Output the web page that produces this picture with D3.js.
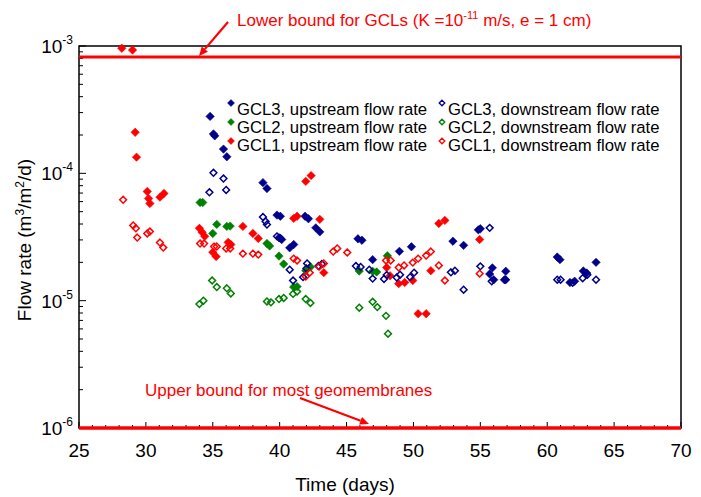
<!DOCTYPE html>
<html><head><meta charset="utf-8">
<script src="https://cdn.jsdelivr.net/npm/d3@7"></script>
<style>
body{margin:0;background:#fff;}
text{font-family:Arial,"Liberation Sans",sans-serif;}
</style></head>
<body>
<svg id="chart" width="701" height="497"></svg>
<script>
// ---------------- DATA ----------------
const xTicks = [25, 30, 35, 40, 45, 50, 55, 60, 65, 70];
const yTicks = [1e-6, 1e-5, 1e-4, 1e-3];
const yTickExponents = ["-6", "-5", "-4", "-3"];

const gcl3UpDays = [34.8, 35.05, 35.15, 35.8, 36.05, 38.75, 39.05, 39.8, 40.05, 39.95, 40.15, 40.75, 41.05, 41.9, 42.15, 42.7, 43.0, 45.85, 46.15, 46.95, 48.95, 49.85, 52.95, 53.75, 54.85, 55.0, 55.9, 55.7, 56.0, 56.9, 56.8, 60.75, 60.95, 61.7, 62.05, 62.7, 62.95, 63.65];
const gcl3UpVals = [2.8e-4, 2.04e-4, 1.97e-4, 1.55e-4, 1.35e-4, 8.45e-5, 7.6e-5, 4.7e-5, 4.6e-5, 3.12e-5, 3.02e-5, 2.6e-5, 2.76e-5, 4.6e-5, 4.4e-5, 3.73e-5, 3.47e-5, 3.06e-5, 2.98e-5, 2.1e-5, 2.44e-5, 2.65e-5, 2.93e-5, 2.72e-5, 3.6e-5, 3.67e-5, 1.81e-5, 1.62e-5, 1.46e-5, 1.7e-5, 1.46e-5, 2.2e-5, 2.1e-5, 1.39e-5, 1.42e-5, 1.71e-5, 1.65e-5, 2.0e-5];

const gcl2UpDays = [34.05, 34.25, 35.0, 35.3, 36.05, 36.3, 39.05, 39.25, 39.95, 40.3, 41.05, 41.3, 41.95, 42.3, 45.95, 46.95, 47.25, 48.05];
const gcl2UpVals = [5.9e-5, 5.9e-5, 3.37e-5, 3.97e-5, 3.83e-5, 3.85e-5, 2.81e-5, 2.69e-5, 2.24e-5, 1.94e-5, 1.28e-5, 1.29e-5, 1.72e-5, 1.84e-5, 1.71e-5, 1.7e-5, 1.68e-5, 2.25e-5];

const gcl1UpDays = [28.2, 29.0, 29.2, 29.3, 30.1, 30.2, 30.3, 31.05, 31.35, 34.0, 34.2, 34.4, 35.0, 35.25, 36.15, 36.35, 37.25, 38.0, 38.4, 41.05, 41.3, 41.95, 42.35, 43.0, 43.3, 48.0, 48.25, 48.9, 49.35, 49.95, 50.35, 50.95, 51.3, 51.9, 52.35, 54.95];
const gcl1UpVals = [9.6e-4, 9.3e-4, 2.1e-4, 1.34e-4, 7.2e-5, 6.35e-5, 5.8e-5, 6.5e-5, 6.95e-5, 3.7e-5, 3.45e-5, 3.2e-5, 2.4e-5, 2.22e-5, 2.87e-5, 2.76e-5, 3.83e-5, 3.37e-5, 3.08e-5, 4.43e-5, 4.6e-5, 8.65e-5, 9.6e-5, 4.35e-5, 1.66e-5, 1.82e-5, 1.57e-5, 1.36e-5, 1.39e-5, 1.44e-5, 7.9e-6, 7.9e-6, 1.72e-5, 4.04e-5, 4.27e-5, 3.02e-5];

const gcl3DownDays = [35.05, 35.8, 34.75, 36.0, 38.75, 38.95, 39.05, 39.8, 40.05, 40.75, 41.0, 41.75, 42.05, 42.0, 42.9, 43.15, 45.7, 46.05, 46.7, 46.95, 47.8, 48.0, 48.75, 49.0, 49.75, 50.05, 52.8, 53.1, 53.75, 55.0, 55.7, 55.85, 56.9, 60.75, 61.0, 61.9, 62.65, 63.0, 63.65];
const gcl3DownVals = [1.01e-4, 9.1e-5, 7.1e-5, 7.4e-5, 4.54e-5, 4.19e-5, 3.96e-5, 3.2e-5, 3.09e-5, 1.75e-5, 1.44e-5, 1.53e-5, 1.96e-5, 1.79e-5, 1.87e-5, 1.94e-5, 1.87e-5, 1.84e-5, 1.75e-5, 1.49e-5, 1.48e-5, 1.59e-5, 1.52e-5, 1.6e-5, 1.53e-5, 1.66e-5, 1.67e-5, 1.72e-5, 1.22e-5, 1.86e-5, 3.73e-5, 1.42e-5, 1.46e-5, 1.46e-5, 1.46e-5, 1.38e-5, 1.5e-5, 1.6e-5, 1.46e-5];

const gcl2DownDays = [34.0, 34.3, 34.95, 35.3, 36.05, 36.35, 39.05, 39.35, 39.95, 40.3, 41.0, 41.3, 41.95, 42.3, 45.95, 46.95, 47.3, 47.95, 48.1];
const gcl2DownVals = [9.4e-6, 1.0e-5, 1.44e-5, 1.28e-5, 1.25e-5, 1.14e-5, 9.86e-6, 9.7e-6, 1.03e-5, 1.05e-5, 1.13e-5, 1.18e-5, 1.03e-5, 9.6e-6, 8.8e-6, 9.8e-6, 8.9e-6, 7.6e-6, 5.5e-6];

const gcl1DownDays = [28.3, 29.05, 29.25, 29.35, 30.1, 30.3, 31.05, 31.3, 34.05, 34.35, 35.1, 35.3, 36.0, 36.3, 37.25, 38.0, 38.4, 41.05, 41.3, 41.95, 42.25, 42.95, 43.3, 44.0, 44.3, 45.05, 47.95, 48.3, 48.9, 49.3, 49.95, 50.35, 50.95, 51.3, 51.9, 52.35, 54.95];
const gcl1DownVals = [6.2e-5, 3.9e-5, 3.7e-5, 3.13e-5, 3.37e-5, 3.49e-5, 2.86e-5, 2.61e-5, 2.81e-5, 2.81e-5, 2.66e-5, 2.66e-5, 2.57e-5, 2.57e-5, 2.34e-5, 2.34e-5, 2.3e-5, 2.14e-5, 2.07e-5, 1.55e-5, 1.66e-5, 1.85e-5, 1.96e-5, 2.43e-5, 2.57e-5, 2.39e-5, 2.07e-5, 2.07e-5, 1.82e-5, 1.89e-5, 1.99e-5, 2.14e-5, 2.26e-5, 2.43e-5, 1.89e-5, 1.44e-5, 1.63e-5];

const gclLowerBound = 8.2e-4;   // K = 1e-11 m/s, e = 1 cm
const gmUpperBound = 1e-6;

const seriesNames = ["GCL3, upstream flow rate", "GCL2, upstream flow rate", "GCL1, upstream flow rate",
                     "GCL3, downstream flow rate", "GCL2, downstream flow rate", "GCL1, downstream flow rate"];
const seriesColors = ["#00008B", "#008000", "#FF0000", "#00008B", "#008000", "#FF0000"];
const seriesFilled = [true, true, true, false, false, false];
const seriesDays = [gcl3UpDays, gcl2UpDays, gcl1UpDays, gcl3DownDays, gcl2DownDays, gcl1DownDays];
const seriesVals = [gcl3UpVals, gcl2UpVals, gcl1UpVals, gcl3DownVals, gcl2DownVals, gcl1DownVals];

// ---------------- CHART ----------------
const svg = d3.select("#chart");
const L = 79, R = 681, T = 46, B = 428;
const x = d3.scaleLinear().domain([25, 70]).range([L, R]);
const y = d3.scaleLog().domain([1e-6, 1e-3]).range([B, T]);

// frame
svg.append("rect").attr("x", L).attr("y", T).attr("width", R - L).attr("height", B - T)
  .attr("fill", "none").attr("stroke", "#000").attr("stroke-width", 1.5);

// x ticks (inward)
const xMinor = d3.range(25, 70.01, 1);
svg.append("g").selectAll("line").data(xMinor).join("line")
  .attr("x1", d => x(d)).attr("x2", d => x(d))
  .attr("y1", B).attr("y2", d => B - (d % 5 === 0 ? 6 : 3))
  .attr("stroke", "#000").attr("stroke-width", 1);
svg.append("g").selectAll("text").data(xTicks).join("text")
  .attr("x", d => x(d)).attr("y", 457).attr("text-anchor", "middle")
  .attr("font-size", 19).attr("fill", "#000").text(d => d);

// y ticks
const yMinor = [];
for (let e = -6; e < -3; e++) for (let m = 2; m <= 9; m++) yMinor.push(m * Math.pow(10, e));
svg.append("g").selectAll("line").data(yMinor).join("line")
  .attr("x1", L).attr("x2", L + 4).attr("y1", d => y(d)).attr("y2", d => y(d))
  .attr("stroke", "#000").attr("stroke-width", 1);
svg.append("g").selectAll("line").data(yTicks).join("line")
  .attr("x1", L).attr("x2", L + 7).attr("y1", d => y(d)).attr("y2", d => y(d))
  .attr("stroke", "#000").attr("stroke-width", 1);
const yl = svg.append("g").selectAll("text").data(yTicks).join("text")
  .attr("x", 73).attr("y", d => y(d) + 7).attr("text-anchor", "end")
  .attr("font-size", 19).attr("fill", "#000");
yl.append("tspan").text("10");
yl.append("tspan").attr("font-size", 12).attr("dy", -9).text((d, i) => yTickExponents[i]);

// axis titles
svg.append("text").attr("x", 345).attr("y", 491).attr("text-anchor", "middle")
  .attr("font-size", 19).text("Time (days)");
const yt = svg.append("text").attr("transform", "translate(31,240) rotate(-90)")
  .attr("text-anchor", "middle").attr("font-size", 19);
yt.append("tspan").text("Flow rate (m");
yt.append("tspan").attr("font-size", 12).attr("dy", -7).text("3");
yt.append("tspan").attr("dy", 7).text("/m");
yt.append("tspan").attr("font-size", 12).attr("dy", -7).text("2");
yt.append("tspan").attr("dy", 7).text("/d)");

// bound lines
svg.append("line").attr("x1", L).attr("x2", R).attr("y1", y(gclLowerBound)).attr("y2", y(gclLowerBound))
  .attr("stroke", "#FF0000").attr("stroke-width", 3);
svg.append("line").attr("x1", L).attr("x2", R).attr("y1", y(gmUpperBound)).attr("y2", y(gmUpperBound))
  .attr("stroke", "#FF0000").attr("stroke-width", 3.5);

// markers
function diamond(r) { return `M0,${-r}L${r},0L0,${r}L${-r},0Z`; }
seriesNames.forEach((name, i) => {
  const pts = seriesDays[i].map((d, j) => [d, seriesVals[i][j]]);
  svg.append("g").selectAll("path").data(pts).join("path")
    .attr("transform", d => `translate(${x(d[0])},${y(d[1])})`)
    .attr("d", seriesFilled[i] ? diamond(4.2) : diamond(3.4))
    .attr("fill", seriesFilled[i] ? seriesColors[i] : "none")
    .attr("stroke", seriesColors[i])
    .attr("stroke-width", seriesFilled[i] ? 0.6 : 1.5);
});

// legend
const legX = [231, 442], legMarkY = [103, 122, 141], legTextY = [115, 133, 151];
seriesNames.forEach((name, i) => {
  const col = Math.floor(i / 3), row = i % 3;
  svg.append("path").attr("transform", `translate(${legX[col]},${legMarkY[row]})`)
    .attr("d", seriesFilled[i] ? diamond(3.5) : diamond(2.8))
    .attr("fill", seriesFilled[i] ? seriesColors[i] : "none")
    .attr("stroke", seriesColors[i]).attr("stroke-width", seriesFilled[i] ? 0.5 : 1.3);
  svg.append("text").attr("x", legX[col] + 6).attr("y", legTextY[row])
    .attr("font-size", 16.7).attr("fill", "#000").text(name);
});

// annotations
const ann1 = svg.append("text").attr("x", 237).attr("y", 26).attr("font-size", 17).attr("fill", "#FF0000");
ann1.append("tspan").text("Lower bound for GCLs (K =10");
ann1.append("tspan").attr("font-size", 11).attr("dy", -7).text("-11");
ann1.append("tspan").attr("dy", 7).text(" m/s, e = 1 cm)");
svg.append("text").attr("x", 145).attr("y", 396).attr("font-size", 17).attr("fill", "#FF0000")
  .text("Upper bound for most geomembranes");

function arrow(x1, y1, x2, y2) {
  const ang = Math.atan2(y2 - y1, x2 - x1), len = 9, w = 4;
  const bx = x2 - len * Math.cos(ang), by = y2 - len * Math.sin(ang);
  svg.append("line").attr("x1", x1).attr("y1", y1).attr("x2", bx).attr("y2", by)
    .attr("stroke", "#FF0000").attr("stroke-width", 2.2);
  const px = -Math.sin(ang) * w, py = Math.cos(ang) * w;
  svg.append("path").attr("d", `M${x2},${y2}L${bx + px},${by + py}L${bx - px},${by - py}Z`).attr("fill", "#FF0000");
}
arrow(228, 22, 199, 56);
arrow(300, 398, 369, 424);
</script>
</body></html>
